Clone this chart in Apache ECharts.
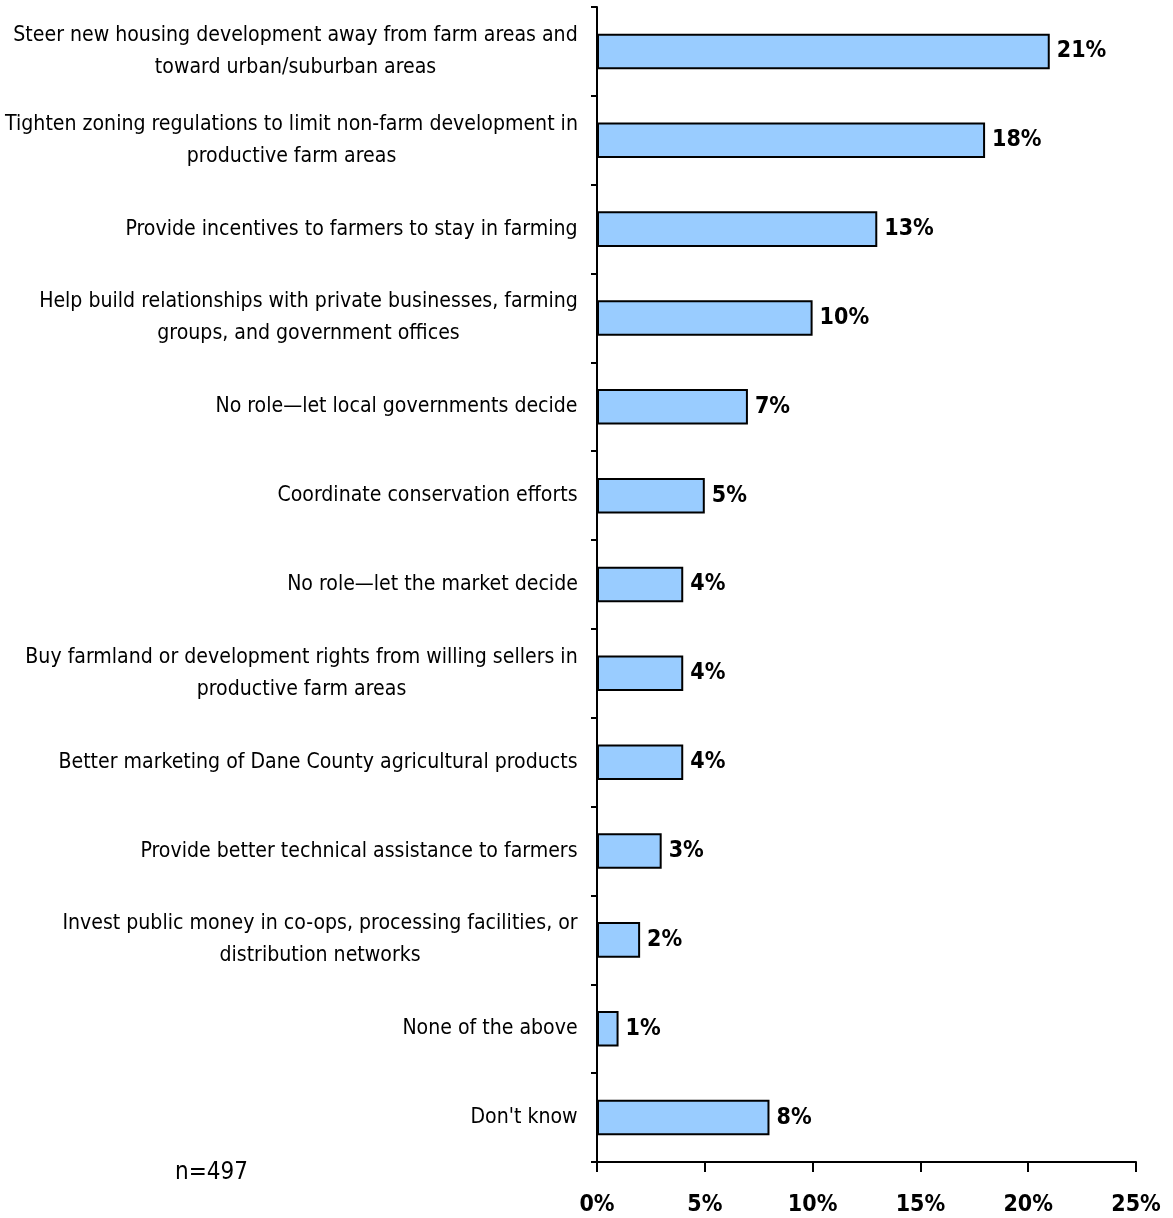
<!DOCTYPE html>
<html><head><meta charset="utf-8">
<script src="https://cdn.jsdelivr.net/npm/echarts@6/dist/echarts.min.js"></script>
<style>html,body{margin:0;padding:0;background:#fff}#c{width:1173px;height:1218px}</style>
</head><body><div id="c"></div>
<script>
const categories = [
  "Steer new housing development away from farm areas and\ntoward urban/suburban areas",
  "Tighten zoning regulations to limit non-farm development in\nproductive farm areas",
  "Provide incentives to farmers to stay in farming",
  "Help build relationships with private businesses, farming\ngroups, and government offices",
  "No role\u2014let local governments decide",
  "Coordinate conservation efforts",
  "No role\u2014let the market decide",
  "Buy farmland or development rights from willing sellers in\nproductive farm areas",
  "Better marketing of Dane County agricultural products",
  "Provide better technical assistance to farmers",
  "Invest public money in co-ops, processing facilities, or\ndistribution networks",
  "None of the above",
  "Don't know"
];
const values = [21, 18, 13, 10, 7, 5, 4, 4, 4, 3, 2, 1, 8];
const xTicks = [0, 5, 10, 15, 20, 25];
const sampleNote = "n=497";

const FONT = '"DejaVu Sans Condensed", "Liberation Sans Narrow", sans-serif';
const LABEL_SIZE = 21.1;
const cv = document.createElement('canvas').getContext('2d');
cv.font = LABEL_SIZE + 'px ' + FONT;
const rich = {};
categories.forEach((c, i) => {
  const lines = c.split('\n');
  const w = Math.ceil(Math.max(...lines.map(l => cv.measureText(l).width))) + 2;
  rich['r' + i] = { width: w, align: 'center', fontSize: LABEL_SIZE, fontFamily: FONT, color: '#000', lineHeight: 32 };
});

const chart = echarts.init(document.getElementById('c'), null, { renderer: 'canvas' });
chart.setOption({
  animation: false,
  grid: { left: 597, top: 7, right: 37, bottom: 56, containLabel: false, outerBoundsMode: 'none' },
  xAxis: {
    type: 'value', min: xTicks[0], max: xTicks[xTicks.length - 1], interval: xTicks[1] - xTicks[0],
    axisLine: { show: true, lineStyle: { color: '#000', width: 2 } },
    axisTick: { show: true, length: 10, lineStyle: { color: '#000', width: 2 } },
    splitLine: { show: false },
    axisLabel: { margin: 32, fontSize: 23, fontWeight: 'bold', fontFamily: FONT, color: '#000',
      formatter: v => v + '%' }
  },
  yAxis: {
    type: 'category', inverse: true, data: categories,
    axisLine: { show: true, lineStyle: { color: '#000', width: 2 } },
    axisTick: { show: true, length: 6, lineStyle: { color: '#000', width: 2 } },
    axisLabel: {
      margin: 18, fontFamily: FONT, fontSize: LABEL_SIZE, color: '#000', lineHeight: 32,
      formatter: (v, idx) => v.split('\n').map(l => '{r' + idx + '|' + l + '}').join('\n'),
      rich: rich
    }
  },
  series: [{
    type: 'bar', data: values, barCategoryGap: '60%',
    itemStyle: { color: '#99CCFF', borderColor: '#000', borderWidth: 2 },
    label: { show: true, position: 'right', distance: 7, formatter: p => p.value + '%',
      fontSize: 23, fontWeight: 'bold', fontFamily: FONT, color: '#000' }
  }],
  graphic: [{ type: 'text', left: 175, top: 1161,
    style: { text: sampleNote, fontSize: 24, fontFamily: FONT, fill: '#000' } }]
});
</script></body></html>
